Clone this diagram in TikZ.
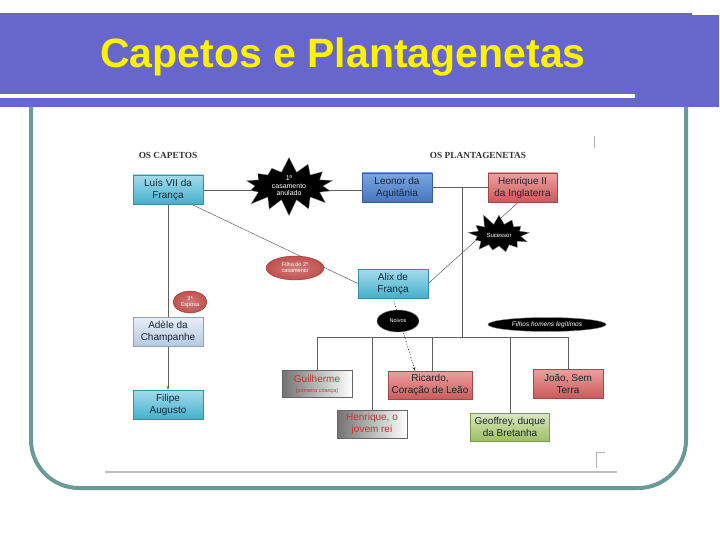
\documentclass[tikz,border=0pt]{standalone}
\usepackage{fontspec}
\setmainfont{Liberation Sans}
\newfontfamily\serifb{Liberation Serif}
\usetikzlibrary{shapes.symbols,shapes.geometric,arrows.meta,backgrounds}
\definecolor{barblue}{HTML}{6666CC}
\definecolor{frameteal}{HTML}{6A9A96}
\definecolor{cyantop}{HTML}{A3DCEC}
\definecolor{cyanbot}{HTML}{45B0CC}
\definecolor{redtop}{HTML}{EDA0A0}
\definecolor{redbot}{HTML}{CC5A5A}
\definecolor{bluetop}{HTML}{7AA5E0}
\definecolor{bluebot}{HTML}{4676C0}
\definecolor{paletop}{HTML}{E8EFF8}
\definecolor{palebot}{HTML}{B6C9E2}
\definecolor{greentop}{HTML}{DCE8C2}
\definecolor{greenbot}{HTML}{9EBE62}
\definecolor{ovalred}{HTML}{C0504D}
\definecolor{textdark}{HTML}{1A2633}
\definecolor{textred}{HTML}{D03030}
\definecolor{linegray}{HTML}{606060}
\tikzset{
  famnode/.style={rectangle, minimum height=29pt, inner sep=1pt, align=center,
    font=\fontsize{10}{12}\selectfont, text=textdark},
  cyanbox/.style={famnode, top color=cyantop, bottom color=cyanbot, draw=cyanbot!80!black, line width=0.3pt},
  redbox/.style={famnode, top color=redtop, bottom color=redbot, draw=redbot!80!black, line width=0.3pt},
  bluebox/.style={famnode, top color=bluetop, bottom color=bluebot, draw=bluebot!80!black, line width=0.3pt},
  palebox/.style={famnode, top color=paletop, bottom color=palebot, draw=palebot!80!black, line width=0.3pt},
  greenbox/.style={famnode, top color=greentop, bottom color=greenbot, draw=greenbot!80!black, line width=0.3pt},
  graybox/.style={famnode, left color=black!55, right color=white, draw=black!60, line width=0.3pt, text=textred},
  redoval/.style={ellipse, inner sep=0pt, inner color=ovalred!75!white, outer color=ovalred, draw=ovalred!70!black, line width=0.3pt,
    text=white, align=center, font=\fontsize{5.5}{6}\selectfont},
  blackoval/.style={ellipse, inner sep=0pt, fill=black, draw=black!50, line width=0.4pt,
    text=white, align=center, font=\fontsize{6.5}{7}\selectfont\itshape},
  burst/.style={starburst, fill=black, draw=black!40, line width=0.3pt, text=white, align=center,
    font=\fontsize{7}{7.5}\selectfont, inner sep=0pt},
  conn/.style={draw=linegray, line width=0.6pt},
  heading/.style={font=\serifb\bfseries\fontsize{9.3}{10}\selectfont, text=black!80}
}
\begin{document}
\begin{tikzpicture}[x=1pt,y=-1pt]
\useasboundingbox (0,0) rectangle (720,540);
% title bar
\fill[barblue] (0,13) rectangle (692,107);
\fill[barblue] (635,15) rectangle (719,107);
\fill[white] (0,94.5) rectangle (635,98);
\node[font=\bfseries\fontsize{41}{44}\selectfont, text=yellow] (title) at (343,57) {Capetos e Plantagenetas};
% frame
\draw[frameteal, line width=4pt, rounded corners=48pt] (31,107) -- (31,488) -- (686,488) -- (686,107);
% slide inner marks
\draw[black!25, line width=1.5pt] (105,472) -- (617,472);
\draw[black!30, line width=0.5pt] (594,136) -- (594,148);
\draw[black!30, line width=0.5pt] (605,452) -- (596,452) -- (596,468);
% headings
\node[heading] (hcap) at (168,155) {OS CAPETOS};
\node[heading] (hplan) at (478,155) {OS PLANTAGENETAS};
% nodes
\node[cyanbox, minimum width=70pt] (luis) at (168,189.5) {Luís VII da\\França};
\node[bluebox, minimum width=70pt] (leonor) at (397,187.5) {Leonor da\\Aquitânia};
\node[redbox, minimum width=69pt] (henrique) at (522.5,187.5) {Henrique II\\da Inglaterra};
\node[burst, starburst points=14, starburst point height=16pt, random starburst=7, minimum width=100pt, minimum height=60pt] (casam) at (289,186) {1º\\casamento\\anulado};
\node[burst, starburst points=13, starburst point height=12pt, random starburst=11, minimum width=68pt, minimum height=46pt, font=\fontsize{6}{7}\selectfont] (suc) at (499,235) {Sucessor};
\node[redoval, minimum width=58pt, minimum height=24pt] (filha) at (295,268) {Filha do 2º\\casamento};
\node[cyanbox, minimum width=70pt] (alix) at (393,283.5) {Alix de\\França};
\node[redoval, minimum width=34pt, minimum height=22pt] (esposa) at (190,302) {2ª\\Esposa};
\node[palebox, minimum width=70pt] (adele) at (168,331.5) {Adèle da\\Champanhe};
\node[cyanbox, minimum width=70pt] (filipe) at (168,404.5) {Filipe\\Augusto};
\node[blackoval, minimum width=42pt, minimum height=22pt, font=\fontsize{5.5}{6}\selectfont] (noivos) at (398,321) {Noivos};
\node[blackoval, minimum width=118pt, minimum height=14pt] (filhos) at (547,324.5) {Filhos homens legítimos};
\node[graybox, minimum width=70pt, minimum height=27pt] (guilherme) at (317,384) {Guilherme\\[-2pt]{\fontsize{5.5}{6}\selectfont (primeira criança)}};
\node[graybox, minimum width=70pt, minimum height=28pt] (hjovem) at (372,424) {Henrique, o\\jovem rei};
\node[redbox, minimum width=84pt, minimum height=28pt] (ricardo) at (430,385) {Ricardo,\\Coração de Leão};
\node[greenbox, minimum width=79pt, minimum height=28pt] (geoffrey) at (510,427) {Geoffrey, duque\\da Bretanha};
\node[redbox, minimum width=70pt, minimum height=29pt] (joao) at (568,383.5) {João, Sem\\Terra};
% connectors
\begin{scope}[on background layer]
\coordinate (mid) at (462,188);
\coordinate (bar) at (462,337);
\coordinate (barL) at (317,337);
\coordinate (barR) at (568,337);
\draw[conn] (luis.east |- 0,190) -- (leonor.west |- 0,190);
\draw[conn] (leonor.east) -- (henrique.west);
\draw[conn] (mid) -- (bar);
\draw[conn] (barL) -- (barR);
\draw[conn] (guilherme.north |- bar) -- (guilherme.north);
\draw[conn] (hjovem.north |- bar) -- (hjovem.north);
\draw[conn] ([xshift=2pt]ricardo.north |- bar) -- ([xshift=2pt]ricardo.north);
\draw[conn] (geoffrey.north |- bar) -- (geoffrey.north);
\draw[conn] (joao.north |- bar) -- (joao.north);
\draw[conn] (luis.south) -- (adele.north);
\draw[conn, -{Stealth[length=4pt,width=3pt]}] (adele.south) -- (filipe.north);
\draw[conn, line width=0.5pt] ([xshift=-12pt]luis.south east) -- (alix.west);
\draw[conn, line width=0.5pt] ([xshift=-4pt]henrique.south) -- (alix.east);
\draw[black!80, dotted, line width=0.8pt, -{Stealth[length=4pt,width=3pt]}] (alix.south) -- ([xshift=-15pt]ricardo.north);
\end{scope}
\end{tikzpicture}
\end{document}
